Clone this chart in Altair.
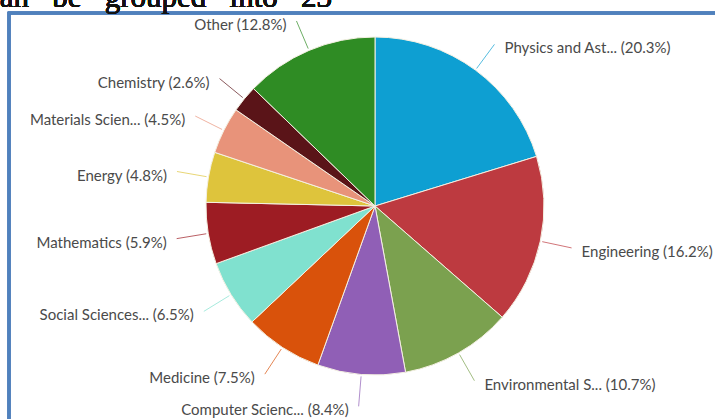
import altair as alt
import pandas as pd

categories = ["Physics and Ast...", "Engineering", "Environmental S...", "Computer Scienc...",
              "Medicine", "Social Sciences...", "Mathematics", "Energy",
              "Materials Scien...", "Chemistry", "Other"]
values = [20.3, 16.2, 10.7, 8.4, 7.5, 6.5, 5.9, 4.8, 4.5, 2.6, 12.8]
colors = ["#0e9fd2", "#bd3a40", "#7ba14f", "#905fb6", "#d9520b", "#80e1cf",
          "#9d1c23", "#dec43c", "#e8937a", "#5a1418", "#2f8c24"]

df = pd.DataFrame({
    "category": categories,
    "value": values,
    "order": list(range(len(categories))),
})
df["label"] = [f"{c} ({v}%)" for c, v in zip(categories, values)]

CX, CY, R = 375, 206, 169
R1, R2 = R + 2, R + 32
W, H = 715, 419

xs = alt.Scale(domain=[0, W], range=[0, W], nice=False, zero=False)
ys = alt.Scale(domain=[0, H], range=[0, H], nice=False, zero=False)
cs = alt.Scale(domain=categories, range=colors)

pie = alt.Chart(df).mark_arc(radius=R, stroke="#f4f0e2", strokeWidth=1).encode(
    theta=alt.Theta("value:Q", stack=True),
    color=alt.Color("category:N", scale=cs, legend=None),
    order=alt.Order("order:Q"),
    x=alt.value(CX),
    y=alt.value(CY),
)

geo = alt.Chart(df).transform_window(
    cum="sum(value)", sort=[alt.SortField("order")], frame=[None, 0]
).transform_joinaggregate(
    total="sum(value)"
).transform_calculate(
    mid="(datum.cum - datum.value/2)/datum.total*2*PI",
).transform_calculate(
    x1=f"{CX} + {R1}*sin(datum.mid)",
    y1=f"{CY} - {R1}*cos(datum.mid)",
    x2=f"{CX} + {R2}*sin(datum.mid)",
    y2=f"{CY} - {R2}*cos(datum.mid)",
).transform_calculate(
    lx="datum.mid < PI ? datum.x2 + 10 : datum.x2 - 10",
    ly="datum.y2 + 4",
)

leaders = geo.mark_rule(strokeWidth=1, opacity=0.7).encode(
    x=alt.X("x1:Q", scale=xs, axis=None),
    y=alt.Y("y1:Q", scale=ys, axis=None),
    x2="x2:Q",
    y2="y2:Q",
    color=alt.Color("category:N", scale=cs, legend=None),
)

label_style = dict(font="Lato", fontSize=15, color="#4a4a4a", baseline="middle")
labels_right = geo.transform_filter("datum.mid < PI").mark_text(align="left", **label_style).encode(
    x=alt.X("lx:Q", scale=xs, axis=None),
    y=alt.Y("ly:Q", scale=ys, axis=None),
    text="label:N",
)
labels_left = geo.transform_filter("datum.mid >= PI").mark_text(align="right", **label_style).encode(
    x=alt.X("lx:Q", scale=xs, axis=None),
    y=alt.Y("ly:Q", scale=ys, axis=None),
    text="label:N",
)

frame = alt.Chart(df).mark_rect(fill=None, stroke="#4f81bd", strokeWidth=2.5, fillOpacity=0).encode(
    x=alt.value(9), x2=alt.value(740), y=alt.value(13), y2=alt.value(450)
)

top_text = alt.Chart(df).mark_text(
    font="Liberation Serif", fontSize=31, align="left", baseline="alphabetic", color="#111111"
).encode(
    x=alt.value(-14), y=alt.value(7),
    text=alt.value("can\u00a0\u00a0\u00a0be\u00a0\u00a0\u00a0grouped\u00a0\u00a0\u00a0into\u00a0\u00a0\u00a023"),
)

chart = alt.layer(frame, pie, leaders, labels_right, labels_left, top_text).properties(
    width=W, height=H, padding=0, autosize=alt.AutoSizeParams(type="none"),
    background="white",
).configure_view(stroke=None)

chart.save("out.html", embed_options={"renderer": "svg", "actions": False})
